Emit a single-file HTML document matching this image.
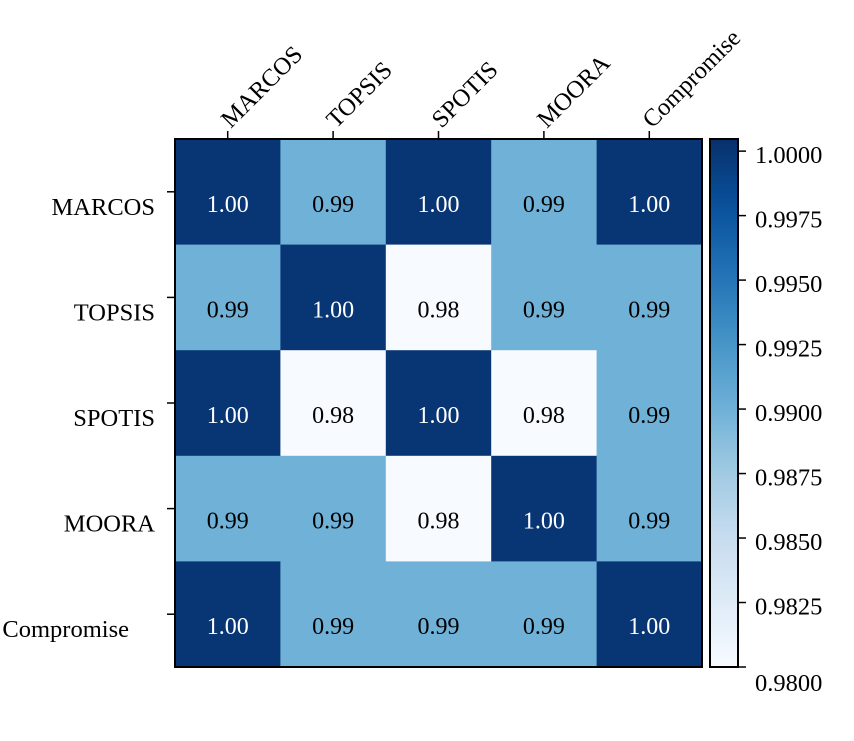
<!DOCTYPE html>
<html><head><meta charset="utf-8"><style>
body{margin:0;background:#fff;}
svg text{font-family:"Liberation Serif",serif;}
</style></head><body>
<svg id="c" width="854" height="736"></svg>
<script>
const labels=["MARCOS","TOPSIS","SPOTIS","MOORA","Compromise"];
const values=[
[1.000,0.990,1.000,0.990,1.000],
[0.990,1.000,0.980,0.990,0.990],
[1.000,0.980,1.000,0.980,0.990],
[0.990,0.990,0.980,1.000,0.990],
[1.000,0.990,0.990,0.990,1.000]];
const cbTicks=[0.98,0.9825,0.985,0.9875,0.99,0.9925,0.995,0.9975,1.0];
const vmin=0.98,vmax=1.00047;
const svg=document.getElementById('c');const NS="http://www.w3.org/2000/svg";
function el(t,a,p){const e=document.createElementNS(NS,t);for(const k in a)e.setAttribute(k,a[k]);(p||svg).appendChild(e);return e;}
const blues=[[247,251,255],[222,235,247],[198,219,239],[158,202,225],[107,174,214],[66,146,198],[33,113,181],[8,81,156],[8,48,107]];
function cmap(v){let t=Math.max(0,Math.min(1,(v-vmin)/(vmax-vmin)))*(blues.length-1);let i=Math.min(Math.floor(t),blues.length-2),f=t-i;
const c=blues[i].map((x,j)=>Math.round(x+(blues[i+1][j]-x)*f));return `rgb(${c})`;}
const X0=175,Y0=139,W=527,H=528,n=labels.length,cw=W/n,ch=H/n;
const xs=i=>X0+i*cw, ys=i=>Y0+i*ch;
const FS=24.5;
for(let r=0;r<n;r++)for(let c=0;c<n;c++){
 const v=values[r][c];
 const rc=el('rect',{x:xs(c),y:ys(r),width:cw+0.5,height:ch+0.5,fill:cmap(v)});
 
 
 const t=el('text',{x:xs(c)+cw/2,y:ys(r)+ch/2+20,'text-anchor':'middle','font-size':FS-0.5,fill:(v-vmin)/(vmax-vmin)>0.6?'#fff':'#000'});
 t.textContent=v.toFixed(2);
 
 
}
const fr=el('rect',{x:X0,y:Y0,width:W,height:H,fill:'none',stroke:'#000','stroke-width':2});

for(let i=0;i<n;i++){
 const cx=xs(i)+cw/2;
 el('line',{x1:cx,y1:Y0,x2:cx,y2:Y0-8,stroke:'#000','stroke-width':1.5});
 const t=el('text',{x:cx+3,y:Y0-10,'font-size':FS,transform:`rotate(-45 ${cx+3} ${Y0-10})`});
 t.textContent=labels[i];
 
 const cy=ys(i)+ch/2;
 el('line',{x1:X0,y1:cy,x2:X0-8,y2:cy,stroke:'#000','stroke-width':1.5});
 const r=el('text',{x:i==n-1?129:155,y:cy+23,'text-anchor':'end','font-size':FS});
 r.textContent=labels[i];
 
}
// colorbar
const CX=710,CW=28,cy0=Y0,cH=H;
const defs=el('defs',{});const g=el('linearGradient',{id:'gr',x1:0,y1:1,x2:0,y2:0},defs);
for(let k=0;k<=20;k++){el('stop',{offset:k/20,'stop-color':cmap(vmin+(vmax-vmin)*k/20)},g);}
const cb=el('rect',{x:CX,y:cy0,width:CW,height:cH,fill:'url(#gr)',stroke:'#000','stroke-width':2});

const cyv=v=>cy0+cH-(v-vmin)/(vmax-vmin)*cH;
cbTicks.forEach((v,k)=>{const y=cyv(v);
 el('line',{x1:CX+CW,y1:y,x2:CX+CW+8,y2:y,stroke:'#000','stroke-width':1.5});
 const t=el('text',{x:CX+CW+17,y:y+12+(k==0?12:0),'font-size':FS});t.textContent=v.toFixed(4);
 });
</script>
</body></html>
